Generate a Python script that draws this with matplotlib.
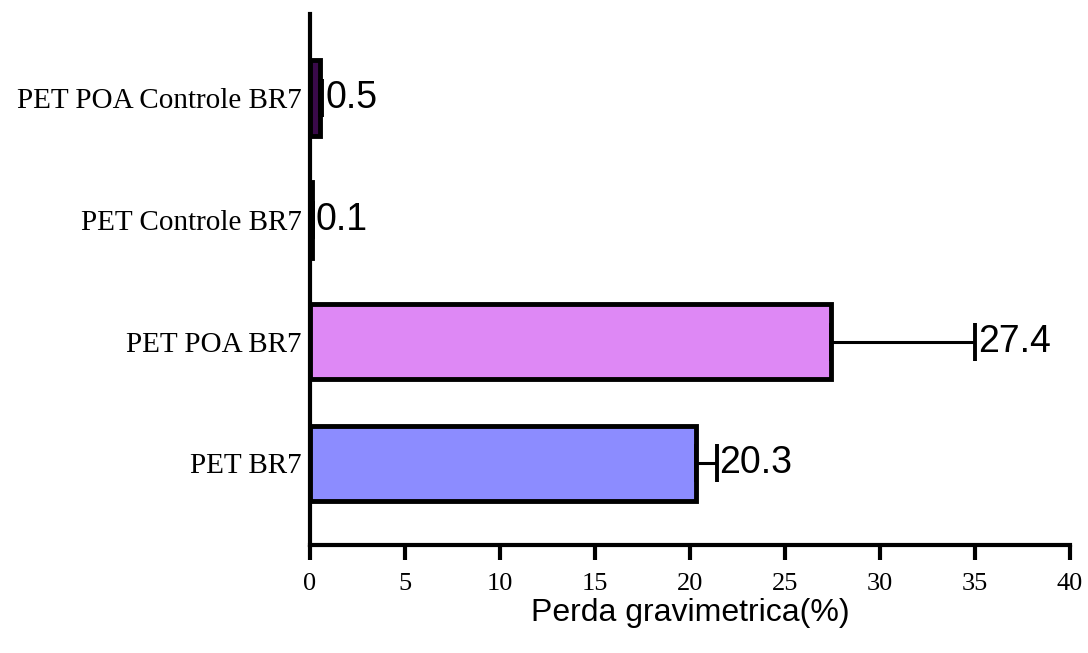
import matplotlib
matplotlib.use("Agg")
import matplotlib.pyplot as plt

categories = ["PET BR7", "PET POA BR7", "PET Controle BR7", "PET POA Controle BR7"]
values = [20.3, 27.4, 0.1, 0.5]
errors = [1.1, 7.6, 0.05, 0.15]
colors = ["#8C8CFF", "#DE88F5", "#2a0a3a", "#3a0a4a"]
xticks = [0, 5, 10, 15, 20, 25, 30, 35, 40]

fig = plt.figure(figsize=(10.88, 6.53), dpi=100)
ax = fig.add_axes([310/1088, 1 - 545/653, (1070-310)/1088, (545-14)/653])

y = list(range(len(categories)))
ax.barh(y, values, height=0.62, color=colors, edgecolor="black", linewidth=3.5, zorder=2)
ax.errorbar(values, y, xerr=[[0]*len(values), errors], fmt="none", ecolor="black",
            elinewidth=2.2, capsize=14, capthick=2.8, zorder=3)
for yi, v, e in zip(y, values, errors):
    ax.text(v + e + 0.15, yi, f"{v}", va="center", ha="left", fontsize=27,
            family="Liberation Sans", color="black")

ax.set_xlim(0, 40)
ax.set_ylim(-0.67, 3.69)
ax.set_xticks(xticks)
ax.set_xticklabels([str(t) for t in xticks], family="Liberation Serif", fontsize=19)
ax.set_yticks(y)
ax.set_yticklabels(categories, family="Liberation Serif", fontsize=21)
ax.tick_params(axis="y", length=0, pad=6)
ax.tick_params(axis="x", length=11, width=3, pad=9)
for s in ["top", "right"]:
    ax.spines[s].set_visible(False)
for s in ["left", "bottom"]:
    ax.spines[s].set_linewidth(3)
ax.set_xlabel("Perda gravimetrica(%)", family="Liberation Sans", fontsize=23, labelpad=2)

fig.savefig("out.png", dpi=100)
